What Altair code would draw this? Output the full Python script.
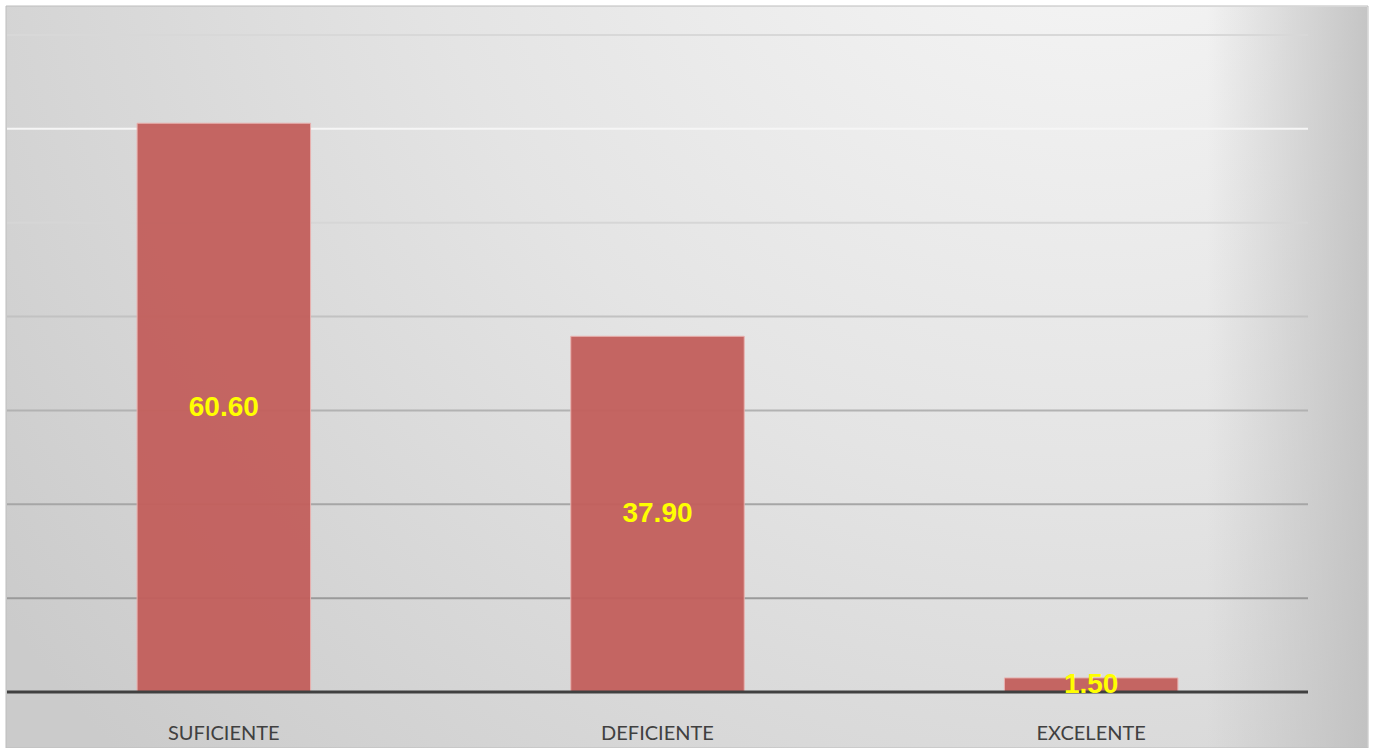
import altair as alt
import pandas as pd

categories = ["SUFICIENTE", "DEFICIENTE", "EXCELENTE"]
values = [60.60, 37.90, 1.50]
grid_values = [10, 20, 30, 40, 50, 60, 70]
grid_colors = ["#9a9a9a", "#a6a6a6", "#b2b2b2", "#c2c2c2", "#d6d6d6", "#f6f6f6", "#d8d8d8"]

df = pd.DataFrame({"cat": categories, "val": values})
df["mid"] = df["val"] / 2
grid_df = pd.DataFrame({"g": grid_values, "c": grid_colors})
base_df = pd.DataFrame({"z": [0]})
one = pd.DataFrame({"a": [0]})

yscale = alt.Scale(domain=[0, 70], nice=False, zero=True)

bg = alt.Chart(one).mark_rect(
    fill={
        "gradient": "radial",
        "x1": 0.8, "y1": 0.08, "r1": 0.0,
        "x2": 0.8, "y2": 0.08, "r2": 1.0,
        "stops": [
            {"offset": 0.0, "color": "#f8f8f8"},
            {"offset": 0.5, "color": "#e4e4e4"},
            {"offset": 1.0, "color": "#cbcbcb"},
        ],
    },
    stroke="#bdbdbd",
    strokeWidth=1,
).encode(x=alt.value(-1), x2=alt.value(1361), y=alt.value(-29), y2=alt.value(713))

shade = alt.Chart(one).mark_rect(
    fill={
        "gradient": "linear",
        "x1": 0, "y1": 0, "x2": 1, "y2": 0,
        "stops": [
            {"offset": 0.0, "color": "rgba(190,190,190,0)"},
            {"offset": 1.0, "color": "rgba(190,190,190,0.85)"},
        ],
    },
).encode(x=alt.value(1200), x2=alt.value(1360), y=alt.value(-28), y2=alt.value(713))

grid = alt.Chart(grid_df).mark_rule(strokeWidth=2).encode(
    y=alt.Y("g:Q", scale=yscale, axis=None),
    color=alt.Color("c:N", scale=None),
)

bars = alt.Chart(df).mark_bar(
    color="#c35f5c", opacity=0.95, stroke="#eab0ae", strokeWidth=1
).encode(
    x=alt.X(
        "cat:N",
        sort=categories,
        scale=alt.Scale(paddingInner=0.6, paddingOuter=0.3),
        axis=alt.Axis(
            title=None, ticks=False, labelAngle=0, domain=False,
            labelFont="Lato", labelFontSize=20, labelColor="#404040",
            labelPadding=31, zindex=1,
        ),
    ),
    y=alt.Y("val:Q", scale=yscale, axis=None),
)

baseline = alt.Chart(base_df).mark_rule(color="#404040", strokeWidth=3).encode(
    y=alt.Y("z:Q", scale=yscale, axis=None),
)

labels = alt.Chart(df).mark_text(
    color="#ffff00", font="Liberation Sans", fontWeight="bold", fontSize=28,
    baseline="middle", align="center",
).encode(
    x=alt.X("cat:N", sort=categories),
    y=alt.Y("mid:Q", scale=yscale),
    text=alt.Text("val:Q", format=".2f"),
)

chart = alt.layer(bg, shade, grid, bars, baseline, labels).properties(
    width=1301, height=657,
    padding={"left": 7, "top": 35, "right": 68, "bottom": 56},
    autosize="none",
    background="white",
).configure_view(stroke=None)

chart.save("out.html", embed_options={"renderer": "svg", "actions": False})
